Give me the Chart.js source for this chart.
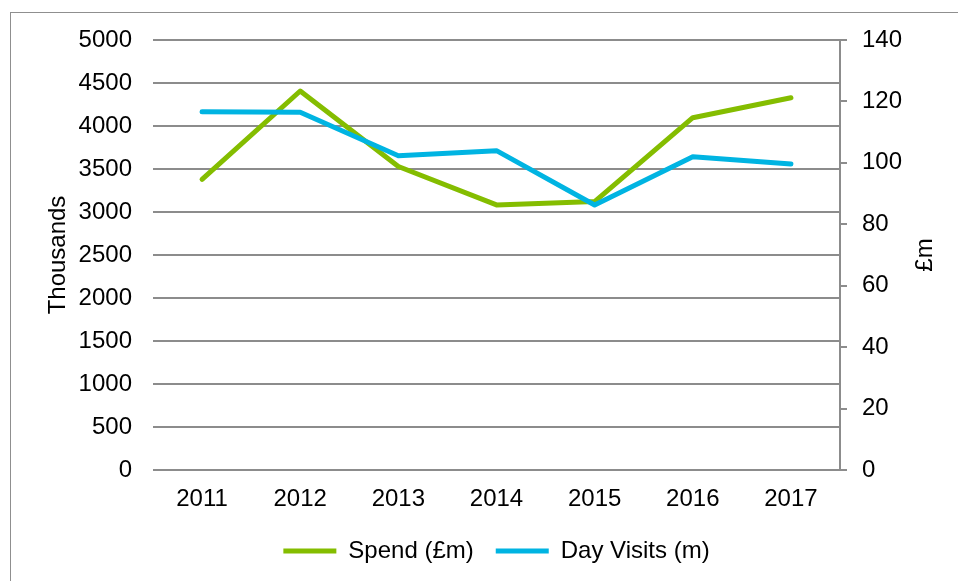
<html>

<head>
  <meta charset="utf-8">
  <script src="https://cdn.jsdelivr.net/npm/chart.js@4.4.0/dist/chart.umd.min.js"></script>
  <style>
    body { margin: 0; background: #fff; }
    #wrap { position: relative; width: 958px; height: 581px; }
    #frame { position: absolute; left: 10px; top: 12px; width: 960px; height: 580px;
             border-left: 1.5px solid #8f8f8f; border-top: 1.5px solid #8f8f8f; }
    canvas { position: absolute; left: 0; top: 0; }
  </style>
</head>

<body>
  <div id="wrap">
    <div id="frame"></div>
    <canvas id="myChart" width="958" height="581"></canvas>
  </div>
</body>

<script>
  const years = ['2011', '2012', '2013', '2014', '2015', '2016', '2017'];
  const spend = [94.6, 123.4, 98.8, 86.3, 87.4, 114.7, 121.2];        // £m, right axis
  const dayVisits = [4166, 4160, 3655, 3713, 3081, 3643, 3558];     // thousands, left axis
  const green = '#84bd00';
  const blue = '#00b4e2';
  const grey = '#8c8c8c';
  const font = { family: 'Liberation Sans, Arial, sans-serif', size: 24 };

  // the right axis title reads bottom to top, like the left one
  const rightTitle = {
    id: 'rightTitle',
    afterDraw(chart) {
      const c = chart.ctx, a = chart.chartArea;
      c.save();
      c.translate(925, (a.top + a.bottom) / 2);
      c.rotate(-Math.PI / 2);
      c.font = font.size + 'px ' + font.family;
      c.fillStyle = '#000';
      c.textAlign = 'center';
      c.textBaseline = 'middle';
      c.fillText('£m', 0, 0);
      c.restore();
    }
  };

  const ctx = document.getElementById('myChart').getContext('2d');
  const chart = new Chart(ctx, {
    type: 'line',
    data: {
      labels: years,
      datasets: [
        {
          label: 'Day Visits (m)',
          data: dayVisits,
          yAxisID: 'y',
          borderColor: blue,
          backgroundColor: blue,
          borderWidth: 5,
          pointRadius: 0,
          borderCapStyle: 'round',
          borderJoinStyle: 'round',
          tension: 0
        },
        {
          label: 'Spend (£m)',
          data: spend,
          yAxisID: 'y1',
          borderColor: green,
          backgroundColor: green,
          borderWidth: 5,
          pointRadius: 0,
          borderCapStyle: 'round',
          borderJoinStyle: 'round',
          tension: 0
        }
      ]
    },
    options: {
      responsive: false,
      animation: false,
      layout: { padding: { top: 40, left: 0, right: 0, bottom: 8 } },
      plugins: {
        tooltip: { enabled: false },
        legend: {
          position: 'bottom',
          fullSize: false,
          labels: {
            font: font,
            color: '#000',
            boxWidth: 53,
            boxHeight: 5,
            padding: 22,
            sort: (a, b) => b.datasetIndex - a.datasetIndex,
            generateLabels: c => Chart.defaults.plugins.legend.labels.generateLabels(c)
              .map(l => Object.assign(l, { lineWidth: 0, fillStyle: l.strokeStyle }))
          }
        }
      },
      scales: {
        x: {
          offset: true,
          grid: { display: false, drawTicks: false },
          border: { display: false },
          ticks: { font: font, color: '#000', padding: 15, maxRotation: 0 },
          afterFit: s => { s.height = 47; }
        },
        y: {
          position: 'left',
          min: 0,
          max: 5000,
          ticks: { stepSize: 500, font: font, color: '#000', padding: 21, callback: v => String(v) },
          grid: { color: grey, lineWidth: 2, drawTicks: false },
          border: { display: false },
          title: { display: true, text: 'Thousands', font: font, color: '#000', padding: { top: 44, bottom: 0 } },
          afterFit: s => { s.width = 153; }
        },
        y1: {
          position: 'right',
          min: 0,
          max: 140,
          ticks: { stepSize: 20, font: font, color: '#000', padding: 15, callback: v => String(v) },
          grid: { drawOnChartArea: false, color: grey, lineWidth: 2, tickLength: 7 },
          border: { display: true, color: grey, width: 2 },
          afterFit: s => { s.width = 118; }
        }
      }
    },
    plugins: [rightTitle]
  });
</script>

</html>
